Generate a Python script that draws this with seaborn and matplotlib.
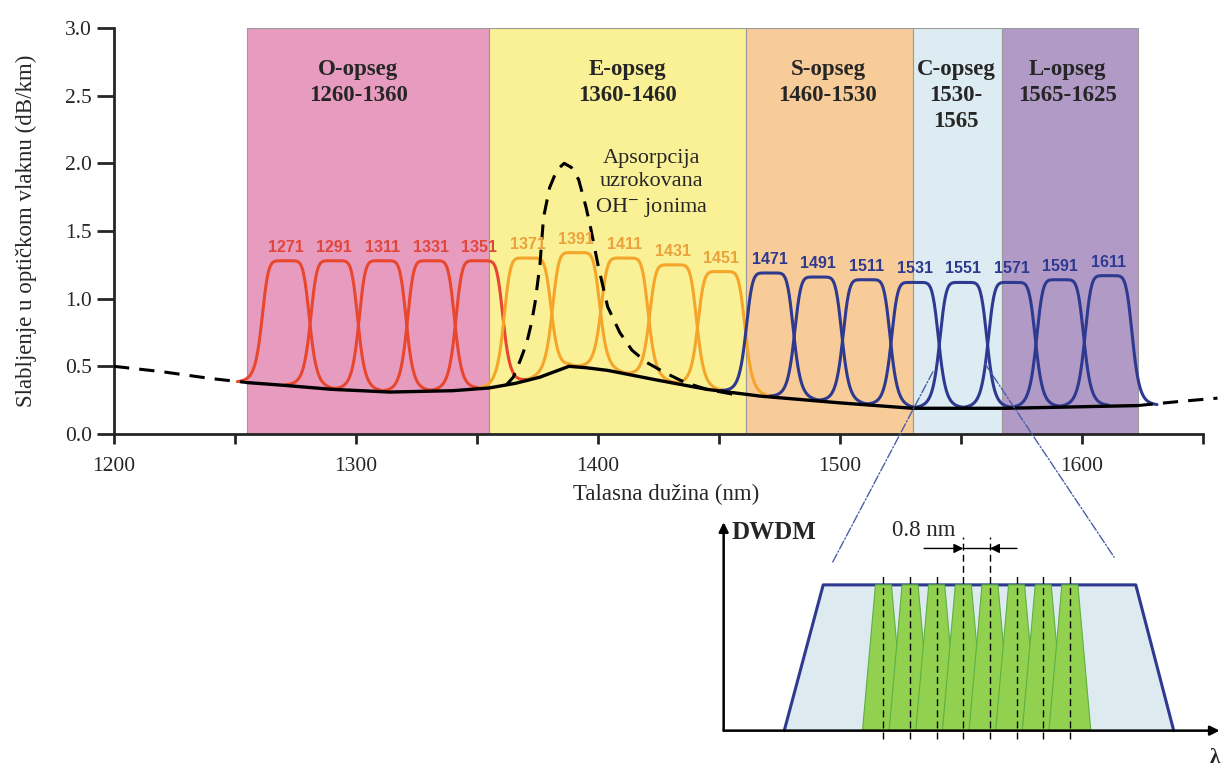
import numpy as np
import pandas as pd
import matplotlib.pyplot as plt
import seaborn as sns
from matplotlib.patches import ConnectionPatch

sns.set_style('ticks')
plt.rcParams['font.family'] = ['Liberation Serif', 'DejaVu Serif']
plt.rcParams['mathtext.fontset'] = 'stix'

# opsezi
band_labels = ['O-opseg\n1260-1360', 'E-opseg\n1360-1460', 'S-opseg\n1460-1530',
               'C-opseg\n1530-\n1565', 'L-opseg\n1565-1625']
band_edges = [1255, 1355, 1461, 1530, 1567, 1623]
band_colors = ['#E79CBF', '#FAF096', '#F8CC98', '#DDECF2', '#B19BC6']
band_label_x = [1301, 1412, 1495, 1548, 1594]

# CWDM kanali
ch_nm = [1271, 1291, 1311, 1331, 1351, 1371, 1391, 1411, 1431, 1451,
         1471, 1491, 1511, 1531, 1551, 1571, 1591, 1611]
ch_peak = [1.28, 1.28, 1.28, 1.28, 1.28, 1.30, 1.34, 1.30, 1.25, 1.20,
           1.19, 1.16, 1.14, 1.12, 1.12, 1.12, 1.14, 1.17]
ch_group = ['r'] * 5 + ['o'] * 5 + ['b'] * 8
group_line = {'r': '#E8472E', 'o': '#F4A52A', 'b': '#2E3990'}
group_text = {'r': '#E0463A', 'o': '#EBA13C', 'b': '#2E3990'}

# slabljenje vlakna
loss_nm = [1255, 1270, 1290, 1314, 1340, 1355, 1366, 1376, 1388, 1395, 1404,
           1424, 1445, 1467, 1500, 1530, 1569, 1596, 1623]
loss_db = [0.38, 0.36, 0.33, 0.31, 0.32, 0.34, 0.375, 0.42, 0.50, 0.49, 0.47,
           0.40, 0.33, 0.28, 0.23, 0.19, 0.19, 0.20, 0.21]
left_nm = [1200, 1220, 1240, 1255]
left_db = [0.50, 0.46, 0.41, 0.38]
right_nm = [1623, 1640, 1656]
right_db = [0.21, 0.24, 0.265]

# OH- apsorpcija
oh_nm = [1362, 1365, 1368, 1370.5, 1372.5, 1374, 1376, 1377.5, 1380, 1383, 1386,
         1389, 1392, 1395, 1397, 1400, 1404, 1409, 1414, 1420, 1428, 1436, 1445, 1457]
oh_db = [0.36, 0.42, 0.55, 0.67, 0.82, 0.97, 1.25, 1.60, 1.82, 1.95, 2.00,
         1.97, 1.88, 1.68, 1.52, 1.25, 0.94, 0.75, 0.62, 0.53, 0.45, 0.38, 0.33, 0.29]

# DWDM detalj
dwdm_ch = [0.0, 0.8, 1.6, 2.4, 3.2, 4.0, 4.8, 5.6]
dwdm_band_x = [-2.98, -1.81, 7.58, 8.72]
dwdm_band_y = [0.0, 1.0, 1.0, 0.0]

fig = plt.figure(figsize=(12.23, 7.70), dpi=100)
ax = fig.add_axes([114 / 1223, 1 - 434 / 770, 1103.5 / 1223, 406 / 770])

for lo, hi, c in zip(band_edges[:-1], band_edges[1:], band_colors):
    ax.axvspan(lo, hi, facecolor=c, edgecolor='#9a9a9a', lw=0.8, zorder=0)
for x, lab in zip(band_label_x, band_labels):
    ax.text(x, 2.77, lab, ha='center', va='top', fontsize=16.5, fontweight='bold',
            linespacing=1.3, zorder=5)

# kanali
rows = []
for c, h, g in zip(ch_nm, ch_peak, ch_group):
    x = np.arange(c - 20, c + 20.01, 0.25)
    base = np.interp(x, loss_nm, loss_db)
    y = base + (h - base) / (1 + np.abs((x - c) / 10.0) ** 7)
    rows.append(pd.DataFrame({'nm': x, 'db': y, 'kanal': str(c)}))
ch_df = pd.concat(rows)
pal = {str(c): group_line[g] for c, g in zip(ch_nm, ch_group)}
sns.lineplot(data=ch_df, x='nm', y='db', hue='kanal', palette=pal, estimator=None,
             sort=False, legend=False, lw=2.2, ax=ax, zorder=2)
for c, h, g in zip(ch_nm, ch_peak, ch_group):
    ax.text(c, h + 0.1, str(c), ha='center', va='center', fontsize=11.5,
            fontweight='bold', color=group_text[g], family='Liberation Sans', zorder=4)

sns.lineplot(x=loss_nm, y=loss_db, color='black', lw=2.4, ax=ax, zorder=3)
sns.lineplot(x=left_nm, y=left_db, color='black', lw=2.2, ls=(0, (5, 3.3)), ax=ax, zorder=3)
sns.lineplot(x=right_nm, y=right_db, color='black', lw=2.2, ls=(0, (5, 3.3)), ax=ax, zorder=3)
sns.lineplot(x=oh_nm, y=oh_db, color='black', lw=2.2, ls=(0, (5, 3.3)), ax=ax, zorder=3)

ax.text(1422, 1.85, 'Apsorpcija\nuzrokovana\nOH$^{-}$ jonima', ha='center', va='center',
        fontsize=16, linespacing=1.3, zorder=5)

ax.set_xlim(1200, 1656)
ax.set_ylim(0, 3.0)
ax.set_xticks([1200, 1300, 1400, 1500, 1600])
ax.set_xticks([1250, 1350, 1450, 1550, 1650], minor=True)
ax.set_yticks([0.0, 0.5, 1.0, 1.5, 2.0, 2.5, 3.0])
ax.set_yticklabels(['0.0', '0.5', '1.0', '1.5', '2.0', '2.5', '3.0'])
ax.tick_params(axis='y', length=12, width=2, labelsize=15.5, pad=4)
ax.tick_params(axis='x', which='both', length=7.5, width=2, labelsize=15.5, pad=9)
sns.despine(ax=ax)
ax.spines['left'].set_linewidth(2)
ax.spines['bottom'].set_linewidth(2)
ax.spines['bottom'].set_bounds(1200, 1650)
ax.set_xlabel('Talasna dužina (nm)', fontsize=16.5, labelpad=6)
ax.set_ylabel('Slabljenje u optičkom vlaknu (dB/km)', fontsize=16.5, labelpad=20)

# DWDM detalj
ax2 = fig.add_axes([717 / 1223, 0, 506 / 1223, 258 / 770])
ax2.set_xlim(-5.0, 10.2)
ax2.set_ylim(-0.27, 1.5)
ax2.axis('off')
ax2.fill(dwdm_band_x, dwdm_band_y, facecolor='#DDEBF1', edgecolor='none', zorder=1)
ax2.plot(dwdm_band_x, dwdm_band_y, color='#2E3990', lw=2.2, zorder=2)
for c in dwdm_ch:
    ax2.fill([c - 0.63, c - 0.24, c + 0.24, c + 0.63], [0, 1, 1, 0],
             facecolor='#92D050', edgecolor='#5DB043', lw=0.8, zorder=3)
for c in dwdm_ch:
    top = 1.33 if c in (2.4, 3.2) else 1.08
    ax2.plot([c, c], [-0.06, top], color='black', lw=1, ls=(0, (5, 3)), zorder=4)
ax2.annotate('', xy=(-4.8, 1.43), xytext=(-4.8, 0), zorder=5,
             arrowprops=dict(arrowstyle='-|>', color='black', lw=1.8, mutation_scale=14,
                             shrinkA=0, shrinkB=0))
ax2.annotate('', xy=(10.1, 0), xytext=(-4.8, 0), zorder=5,
             arrowprops=dict(arrowstyle='-|>', color='black', lw=1.8, mutation_scale=14,
                             shrinkA=0, shrinkB=0))
ax2.annotate('', xy=(2.4, 1.25), xytext=(1.22, 1.25),
             arrowprops=dict(arrowstyle='-|>', color='black', lw=1, mutation_scale=14,
                             shrinkA=0, shrinkB=0))
ax2.annotate('', xy=(3.2, 1.25), xytext=(4.01, 1.25),
             arrowprops=dict(arrowstyle='-|>', color='black', lw=1, mutation_scale=14,
                             shrinkA=0, shrinkB=0))
ax2.plot([2.4, 3.2], [1.25, 1.25], color='black', lw=1)
ax2.text(-3.28, 1.36, 'DWDM', ha='center', va='center', fontsize=18, fontweight='bold')
ax2.text(1.22, 1.37, '0.8 nm', ha='center', va='center', fontsize=16.5)
ax2.text(9.95, -0.185, 'λ', ha='center', va='center', fontsize=15, fontweight='bold')

for a, b in [((1538.4, 0.46), (-1.54, 1.15)), ((1559.9, 0.52), (6.93, 1.19))]:
    con = ConnectionPatch(xyA=a, coordsA=ax.transData, xyB=b, coordsB=ax2.transData,
                          color='#4A5FA8', lw=1, ls='-.', zorder=6)
    fig.add_artist(con)

fig.savefig('out.png', dpi=100)
